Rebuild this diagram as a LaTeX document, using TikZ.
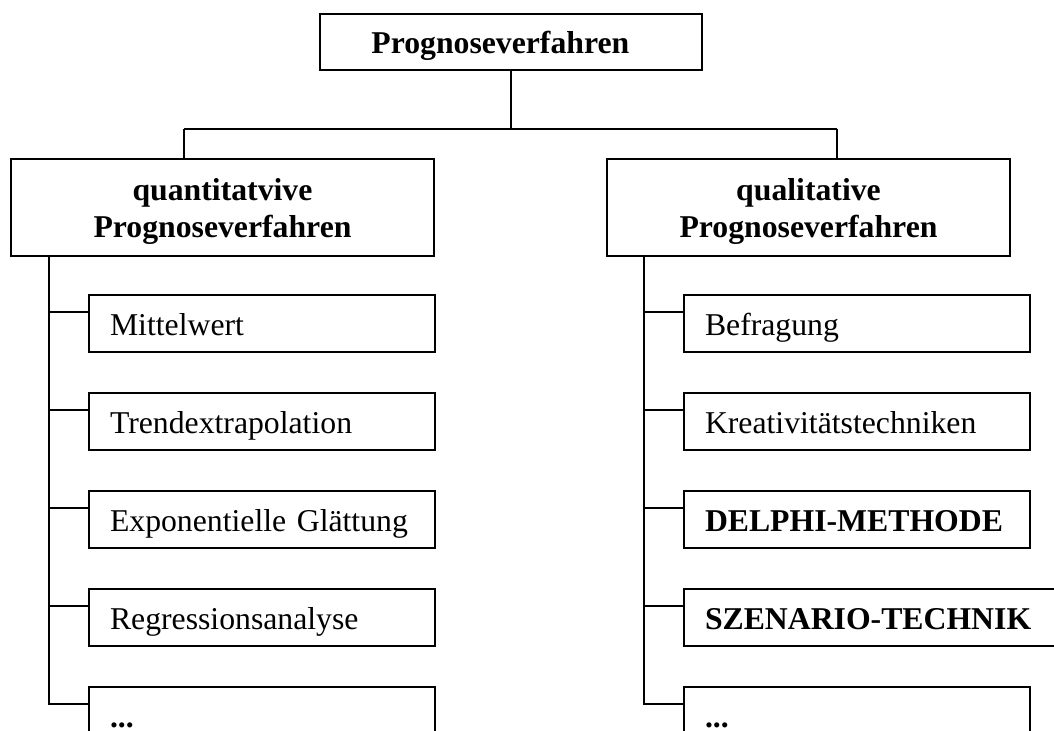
\documentclass[tikz,border=0pt]{standalone}
\usepackage{fontspec}
\setmainfont{Liberation Serif}
\usepackage{tikz}
\usetikzlibrary{positioning}
\newcommand{\progfont}{\fontsize{23.8pt}{27.75pt}\selectfont}

\begin{document}
\begin{tikzpicture}[
    x=0.75pt, y=-0.75pt,
    node distance=29.25pt,
    head/.style={draw, line width=1.5pt, inner sep=0pt, align=center, text depth=0pt, font=\progfont\bfseries},
    leaf/.style={draw, line width=1.5pt, anchor=north west, minimum height=42.75pt, text width=228pt, inner xsep=15.75pt, inner ysep=0pt, text height=21pt, text depth=3.75pt, align=left, font=\progfont},
    link/.style={line width=1.5pt}
  ]
  \useasboundingbox (0,0) rectangle (1054,731);

  \node[head, minimum width=286.5pt, minimum height=42pt] (prog) at (511,42) {Prognoseverfahren\hspace{16pt}};
  \node[head, minimum width=317.25pt, minimum height=72.75pt] (quant) at (222.5,207.5) {quantitatvive\\Prognoseverfahren};
  \node[head, minimum width=302.25pt, minimum height=72.75pt] (qual) at (808.5,207.5) {qualitative\\Prognoseverfahren};

  % quantitative side
  \node[leaf] (l1) at (88,294) {Mittelwert};
  \node[leaf, below=of l1] (l2) {Trendextrapolation};
  \node[leaf, below=of l2] (l3) {Exponentielle Glättung};
  \node[leaf, below=of l3] (l4) {Regressionsanalyse};
  \node[leaf, below=of l4] (l5) {\textbf{...}};

  % qualitative side
  \node[leaf] (r1) at (683,294) {Befragung};
  \node[leaf, below=of r1] (r2) {Kreativitätstechniken};
  \node[leaf, below=of r2] (r3) {\textbf{DELPHI-METHODE}};
  \node[leaf, below=of r3.south west, anchor=north west, text width=252pt] (r4) {\textbf{SZENARIO-TECHNIK}};
  \node[leaf, below=of r4.south west, anchor=north west] (r5) {\textbf{...}};

  \coordinate (lj) at (184,129);
  \coordinate (rj) at (837,129);
  \draw[link] (prog.south) -- (prog.south |- lj);
  \draw[link] (lj) -- (rj);
  \draw[link] (lj) -- (lj |- quant.north);
  \draw[link] (rj) -- (rj |- qual.north);

  \draw[link] ([xshift=29.25pt]quant.south west) |- ([yshift=-13.5pt]l5.north west);
  \draw[link] ([yshift=-13.5pt]l1.north west) -- ++(-28.5pt,0);
  \draw[link] ([yshift=-13.5pt]l2.north west) -- ++(-28.5pt,0);
  \draw[link] ([yshift=-13.5pt]l3.north west) -- ++(-28.5pt,0);
  \draw[link] ([yshift=-13.5pt]l4.north west) -- ++(-28.5pt,0);

  \draw[link] ([xshift=28.5pt]qual.south west) |- ([yshift=-13.5pt]r5.north west);
  \draw[link] ([yshift=-13.5pt]r1.north west) -- ++(-28.5pt,0);
  \draw[link] ([yshift=-13.5pt]r2.north west) -- ++(-28.5pt,0);
  \draw[link] ([yshift=-13.5pt]r3.north west) -- ++(-28.5pt,0);
  \draw[link] ([yshift=-13.5pt]r4.north west) -- ++(-28.5pt,0);
\end{tikzpicture}
\end{document}
